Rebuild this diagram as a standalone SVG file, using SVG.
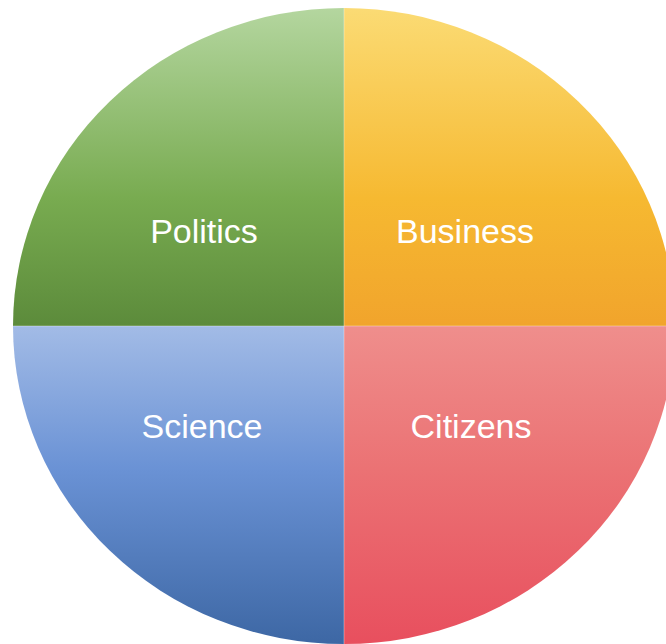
<svg xmlns="http://www.w3.org/2000/svg" width="666" height="644" viewBox="0 0 666 644">
  <defs>
    <linearGradient id="gGreen" x1="0" y1="8" x2="0" y2="326" gradientUnits="userSpaceOnUse">
      <stop offset="0" stop-color="#b4d69f"/>
      <stop offset="0.6" stop-color="#78ab50"/>
      <stop offset="1" stop-color="#5c8b3b"/>
    </linearGradient>
    <linearGradient id="gYellow" x1="0" y1="8" x2="0" y2="326" gradientUnits="userSpaceOnUse">
      <stop offset="0" stop-color="#fbdb74"/>
      <stop offset="0.6" stop-color="#f6b931"/>
      <stop offset="1" stop-color="#f1a42c"/>
    </linearGradient>
    <linearGradient id="gBlue" x1="0" y1="326" x2="0" y2="644" gradientUnits="userSpaceOnUse">
      <stop offset="0" stop-color="#a2bbe6"/>
      <stop offset="0.45" stop-color="#6a92d5"/>
      <stop offset="1" stop-color="#3d67a4"/>
    </linearGradient>
    <linearGradient id="gPink" x1="0" y1="326" x2="0" y2="644" gradientUnits="userSpaceOnUse">
      <stop offset="0" stop-color="#ef8e8c"/>
      <stop offset="0.45" stop-color="#eb7274"/>
      <stop offset="1" stop-color="#e84f5e"/>
    </linearGradient>
  </defs>
  <style>
    .lbl { font-family: "Liberation Sans", Arial, Helvetica, sans-serif; font-size: 34px; fill: #ffffff; text-anchor: middle; }
    .sep { stroke: #ffffff; stroke-opacity: 0.35; stroke-width: 1; }
  </style>
  <rect width="666" height="644" fill="#ffffff"/>
  <g id="politics">
    <path d="M344,326 L13,326 A331,318 0 0 1 344,8 Z" fill="url(#gGreen)"/>
    <text class="lbl" x="204" y="243">Politics</text>
  </g>
  <g id="business">
    <path d="M344,326 L344,8 A331,318 0 0 1 675,326 Z" fill="url(#gYellow)"/>
    <text class="lbl" x="465" y="243">Business</text>
  </g>
  <g id="science">
    <path d="M344,326 L344,644 A331,318 0 0 1 13,326 Z" fill="url(#gBlue)"/>
    <text class="lbl" x="202" y="438">Science</text>
  </g>
  <g id="citizens">
    <path d="M344,326 L675,326 A331,318 0 0 1 344,644 Z" fill="url(#gPink)"/>
    <text class="lbl" x="471" y="438">Citizens</text>
  </g>
  <g id="dividers">
    <line class="sep" x1="344" y1="8" x2="344" y2="644"/>
    <line class="sep" x1="13" y1="326" x2="666" y2="326"/>
  </g>
</svg>
